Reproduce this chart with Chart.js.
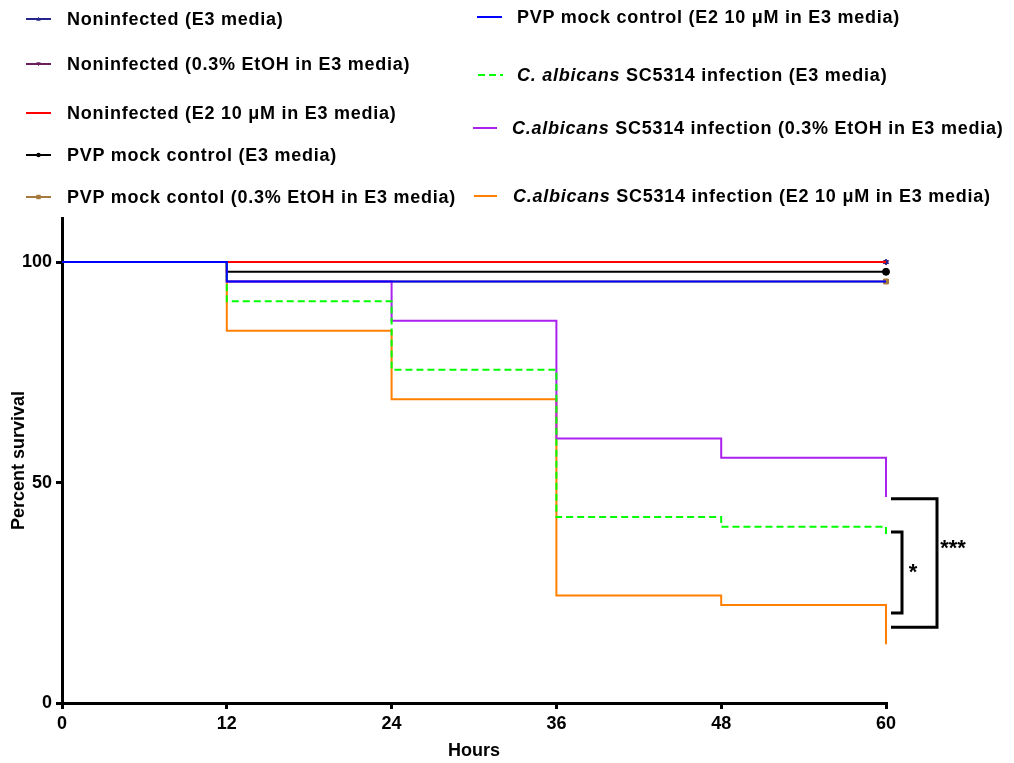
<!DOCTYPE html>
<html>
<head>
<meta charset="utf-8">
<script src="https://cdn.jsdelivr.net/npm/chart.js@4.4.0/dist/chart.umd.min.js"></script>
<style>
  html, body { margin: 0; padding: 0; background: #fff; }
  #wrap { position: relative; width: 1014px; height: 763px; overflow: hidden; }
  #wrap canvas { position: absolute; left: 0; top: 0; }
  .lg-text {
    position: absolute;
    font: bold 18px "Liberation Sans", Arial, sans-serif;
    letter-spacing: 0.75px;
    line-height: 20px;
    color: #000;
    white-space: nowrap;
  }
  .lg-swatch { position: absolute; overflow: visible; }
</style>
</head>
<body>
<div id="wrap">
  <canvas id="chart" width="1014" height="763"></canvas>
  <div id="legend"></div>
</div>
<script>
// Observation times (hours post infection)
const hours = [0, 12, 24, 36, 48, 60];

// Percent survival of each group at each time point
const noninfectedE3      = [100, 100, 100, 100, 100, 100];
const noninfectedEtOH    = [100, 100, 100, 100, 100, 100];
const noninfectedE2      = [100, 100, 100, 100, 100, 100];
const pvpMockE3          = [100, 97.8, 97.8, 97.8, 97.8, 97.8];
const pvpMockEtOH        = [100, 95.6, 95.6, 95.6, 95.6, 95.6];
const pvpMockE2          = [100, 95.6, 95.6, 95.6, 95.6, 95.6];
const albicansE3         = [100, 91.1, 75.6, 42.2, 40.0, 37.8];
const albicansEtOH       = [100, 95.6, 86.7, 60.0, 55.6, 46.7];
const albicansE2         = [100, 84.4, 68.9, 24.4, 22.2, 13.3];

// Group names as shown in the key
const groupLabels = [
  'Noninfected (E3 media)',
  'Noninfected (0.3% EtOH in E3 media)',
  'Noninfected (E2 10 \u03bcM in E3 media)',
  'PVP mock control (E3 media)',
  'PVP mock contol (0.3% EtOH in E3 media)',
  'PVP mock control (E2 10 \u03bcM in E3 media)',
  'C. albicans SC5314 infection (E3 media)',
  'C.albicans SC5314 infection (0.3% EtOH in E3 media)',
  'C.albicans SC5314 infection (E2 10 \u03bcM in E3 media)'
];

// Y-axis tick values
const yTickValues = [0, 50, 100];

// Significance brackets between the final survival levels
const sigBrackets = [
  { text: '*',   top: 38.8, bottom: 20.4, textAt: 30.9, arm: 16, textDx: 27 },
  { text: '***', top: 46.3, bottom: 17.2, textAt: 36.3, arm: 51, textDx: 67 }
];

const seriesValues = [
  noninfectedE3, noninfectedEtOH, noninfectedE2,
  pvpMockE3, pvpMockEtOH, pvpMockE2,
  albicansE3, albicansEtOH, albicansE2
];

// Styling per group (key order); "order" sets stacking, lower draws on top
const styles = [
  { color: '#24248C', marker: 'triangle', rot: 0,   r: 3, order: 7 },
  { color: '#6A1E5C', marker: 'triangle', rot: 180, r: 3, order: 8 },
  { color: '#FF0000', marker: false,      rot: 0,   r: 0, order: 4 },
  { color: '#000000', marker: 'circle',   rot: 0,   r: 3.5, order: 5 },
  { color: '#A67A3C', marker: 'rect',     rot: 0,   r: 3.5, order: 6 },
  { color: '#0000FF', marker: false,      rot: 0,   r: 0, order: 0 },
  { color: '#00FF00', marker: false,      rot: 0,   r: 0, order: 1, dash: [7, 4] },
  { color: '#AA22EE', marker: false,      rot: 0,   r: 0, order: 2 },
  { color: '#FF8000', marker: false,      rot: 0,   r: 0, order: 3 }
];

const lastIdx = hours.length - 1;

const datasets = seriesValues.map((vals, i) => {
  const s = styles[i];
  return {
    label: groupLabels[i],
    data: hours.map((h, k) => ({ x: h, y: vals[k] })),
    borderColor: s.color,
    backgroundColor: s.color,
    borderWidth: 2,
    borderDash: s.dash || [],
    stepped: true,
    fill: false,
    clip: false,
    order: s.order,
    pointStyle: s.marker || 'circle',
    rotation: s.rot,
    pointRadius: ctx => (s.marker && ctx.dataIndex === lastIdx) ? s.r : 0,
    pointBorderWidth: 1,
    pointHoverRadius: 0
  };
});

const FONT = '"Liberation Sans", Arial, sans-serif';

// Significance brackets drawn to the right of the last time point
const bracketPlugin = {
  id: 'sigBrackets',
  afterDatasetsDraw(chart) {
    const { ctx, scales: { x, y } } = chart;
    const x0 = x.getPixelForValue(hours[lastIdx]);
    ctx.save();
    ctx.strokeStyle = '#000';
    ctx.lineWidth = 3;
    ctx.lineJoin = 'miter';
    sigBrackets.forEach(b => {
      const yt = y.getPixelForValue(b.top);
      const yb = y.getPixelForValue(b.bottom);
      const xs = x0 + 5;
      const xe = x0 + b.arm;
      ctx.beginPath();
      ctx.moveTo(xs, yt);
      ctx.lineTo(xe, yt);
      ctx.lineTo(xe, yb);
      ctx.lineTo(xs, yb);
      ctx.stroke();
      ctx.fillStyle = '#000';
      ctx.font = 'bold 22px ' + FONT;
      ctx.textAlign = 'center';
      ctx.textBaseline = 'alphabetic';
      ctx.fillText(b.text, x0 + b.textDx, y.getPixelForValue(b.textAt) + 12);
    });
    ctx.restore();
  }
};

const axisFont = { family: FONT, size: 18, weight: 'bold' };

const chart = new Chart(document.getElementById('chart'), {
  type: 'line',
  data: { datasets },
  options: {
    responsive: false,
    animation: false,
    devicePixelRatio: 1,
    layout: { padding: { top: 218, right: 128, left: 0, bottom: 0 } },
    plugins: { legend: { display: false }, tooltip: { enabled: false } },
    scales: {
      x: {
        type: 'linear',
        min: 0,
        max: 60,
        ticks: { stepSize: 12, color: '#000', font: axisFont, padding: 4, maxRotation: 0 },
        grid: { drawOnChartArea: false, drawTicks: true, tickLength: 6, lineWidth: 3, color: '#000' },
        border: { display: true, color: '#000', width: 3 },
        title: { display: true, text: 'Hours', color: '#000', font: axisFont, padding: { top: 0, bottom: 1 } },
        afterFit: s => { s.height = 60; }
      },
      y: {
        type: 'linear',
        min: 0,
        max: 110,
        afterBuildTicks: s => { s.ticks = yTickValues.map(v => ({ value: v })); },
        ticks: { color: '#000', font: axisFont, padding: 4 },
        grid: { drawOnChartArea: false, drawTicks: true, tickLength: 6, lineWidth: 3, color: '#000' },
        border: { display: true, color: '#000', width: 3 },
        title: { display: true, text: 'Percent survival', color: '#000', font: axisFont, padding: { top: 8, bottom: 0 } },
        afterFit: s => { s.width = 62; }
      }
    }
  },
  plugins: [bracketPlugin]
});

// Key: two columns above the plot
const legendSlots = [
  { x1: 26,  x2: 51,  tx: 67,  y: 19 },
  { x1: 26,  x2: 51,  tx: 67,  y: 64 },
  { x1: 26,  x2: 51,  tx: 67,  y: 113 },
  { x1: 26,  x2: 51,  tx: 67,  y: 155 },
  { x1: 26,  x2: 51,  tx: 67,  y: 197 },
  { x1: 477, x2: 502, tx: 517, y: 17 },
  { x1: 478, x2: 503, tx: 517, y: 75 },
  { x1: 473, x2: 497, tx: 512, y: 128 },
  { x1: 474, x2: 497, tx: 513, y: 196 }
];

function markerSvg(kind, rot, cx, cy, color) {
  const r = 2.2;
  if (kind === 'triangle') {
    const d = rot === 180
      ? `M${cx - r},${cy - r * 0.8} L${cx + r},${cy - r * 0.8} L${cx},${cy + r} Z`
      : `M${cx - r},${cy + r * 0.8} L${cx + r},${cy + r * 0.8} L${cx},${cy - r} Z`;
    return `<path d="${d}" fill="${color}"/>`;
  }
  if (kind === 'circle') return `<circle cx="${cx}" cy="${cy}" r="${r}" fill="${color}"/>`;
  if (kind === 'rect') return `<rect x="${cx - r}" y="${cy - r}" width="${2 * r}" height="${2 * r}" fill="${color}"/>`;
  return '';
}

const legendEl = document.getElementById('legend');
chart.data.datasets.forEach((ds, i) => {
  const slot = legendSlots[i];
  const s = styles[i];
  const w = slot.x2 - slot.x1;
  const svg = document.createElementNS('http://www.w3.org/2000/svg', 'svg');
  svg.setAttribute('class', 'lg-swatch');
  svg.setAttribute('width', w);
  svg.setAttribute('height', 10);
  svg.style.left = slot.x1 + 'px';
  svg.style.top = (slot.y - 5) + 'px';
  const dash = s.dash ? `stroke-dasharray="${s.dash.join(',')}"` : '';
  svg.innerHTML = `<line x1="0" y1="5" x2="${w}" y2="5" stroke="${s.color}" stroke-width="2" ${dash}/>` +
    (s.marker ? markerSvg(s.marker, s.rot, w / 2, 5, s.color) : '');
  legendEl.appendChild(svg);

  const t = document.createElement('div');
  t.className = 'lg-text';
  t.style.left = slot.tx + 'px';
  t.style.top = (slot.y - 10) + 'px';
  const m = ds.label.match(/^(C\.\s?albicans)(.*)$/);
  if (m) {
    const it = document.createElement('i');
    it.textContent = m[1];
    t.appendChild(it);
    t.appendChild(document.createTextNode(m[2]));
  } else {
    t.textContent = ds.label;
  }
  legendEl.appendChild(t);
});
</script>
</body>
</html>
